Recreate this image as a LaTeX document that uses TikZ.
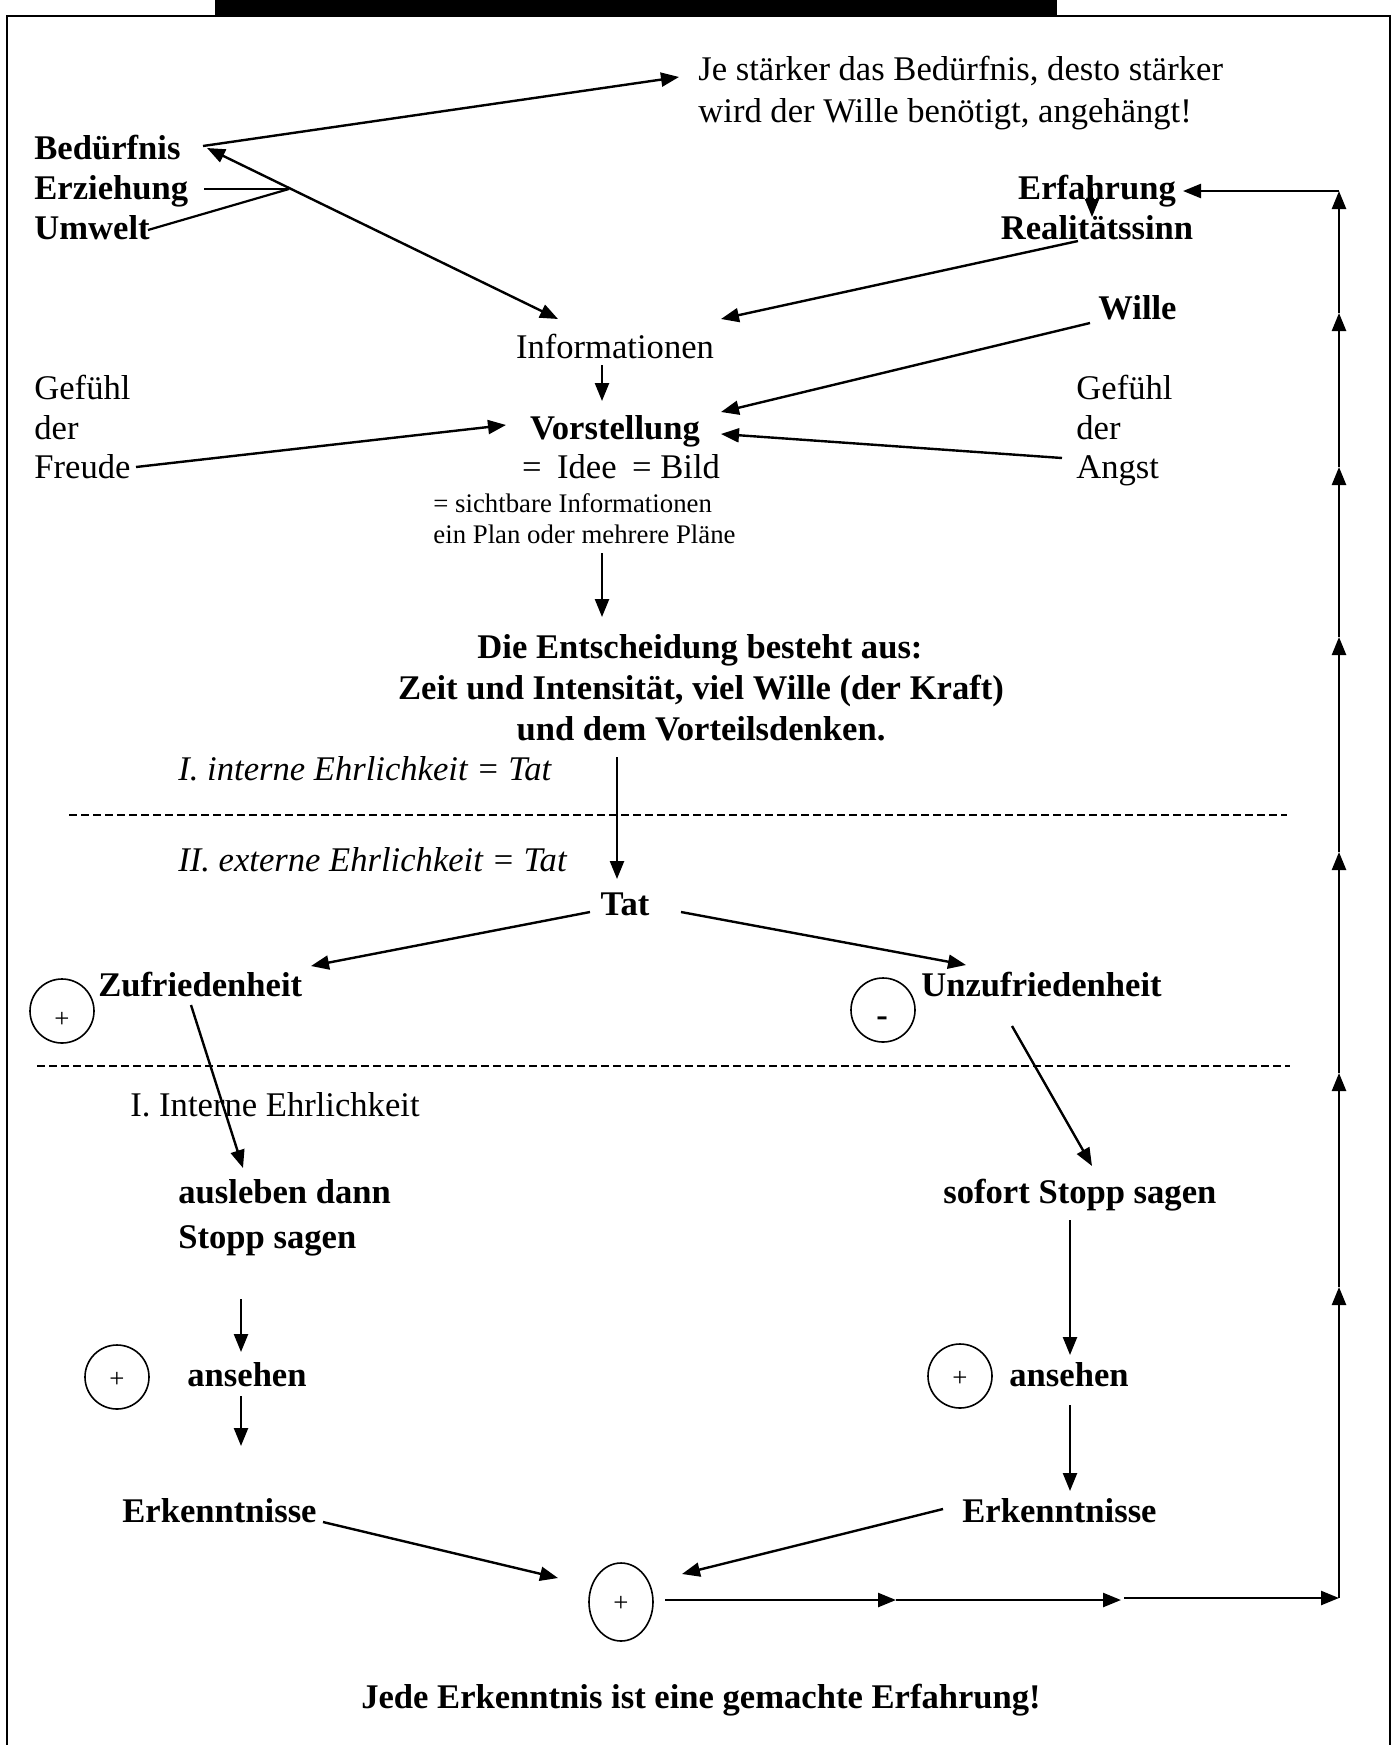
\documentclass[tikz,border=0pt]{standalone}
\usepackage{fontspec}
\setmainfont{Liberation Serif}
\usetikzlibrary{arrows.meta,shapes.geometric}
\begin{document}
\begin{tikzpicture}[x=0.5pt,y=-0.5pt,
  txt/.style={inner sep=0pt, font=\fontsize{17.3}{20}\selectfont},
  btxt/.style={inner sep=0pt, font=\fontsize{17.3}{20}\selectfont\bfseries},
  itxt/.style={inner sep=0pt, font=\fontsize{17.3}{20}\selectfont\itshape},
  stxt/.style={inner sep=0pt, font=\fontsize{13.4}{15}\selectfont},
  arr/.style={line width=1.2pt, -{Triangle[length=9pt,width=7pt]}},
  darr/.style={line width=1.2pt, {Triangle[length=9pt,width=7pt]}-{Triangle[length=9pt,width=7pt]}},
  ln/.style={line width=1.1pt},
  ring/.style={draw, line width=0.8pt, circle, minimum size=32pt, inner sep=0pt},
  oval/.style={draw, line width=0.8pt, ellipse, minimum width=32pt, minimum height=39pt, inner sep=0pt},
  sep/.style={line width=1pt, dash pattern=on 4pt off 2pt}]
\useasboundingbox (0,0) rectangle (1394,1745);
% frame and top bar
\draw[line width=1.3pt] (7,1745) -- (7,16) -- (1390,16) -- (1390,1745);
\fill (215,0) rectangle (1057,15);

% texts
\node[txt, anchor=base west] (je1) at (698,80) {Je stärker das Bedürfnis, desto stärker};
\node[txt, anchor=base west] (je2) at (698,122) {wird der Wille benötigt, angehängt!};
\node[btxt, anchor=base west] (bed) at (34,159) {Bedürfnis};
\node[btxt, anchor=base west] (erz) at (34,199) {Erziehung};
\node[btxt, anchor=base west] (umw) at (34,239) {Umwelt};
\node[btxt, anchor=base] (erf) at (1097,199) {Erfahrung};
\node[btxt, anchor=base] (real) at (1097,239) {Realitätssinn};
\node[btxt, anchor=base west] (wille) at (1098,319) {Wille};
\node[txt, anchor=base] (info) at (615,358) {Informationen};
\node[txt, anchor=base west] (gfa) at (34,399) {Gefühl};
\node[txt, anchor=base west] (gfb) at (34,439) {der};
\node[txt, anchor=base west] (gfc) at (34,478) {Freude};
\node[btxt, anchor=base] (vor) at (615,439) {Vorstellung};
\node[txt, anchor=base] (idee) at (621,478) {=\hspace{0.45em}Idee\hspace{0.45em}= Bild};
\node[txt, anchor=base west] (gaa) at (1076,399) {Gefühl};
\node[txt, anchor=base west] (gab) at (1076,439) {der};
\node[txt, anchor=base west] (gac) at (1076,478) {Angst};
\node[stxt, anchor=base west] (sicht) at (433,512) {= sichtbare Informationen};
\node[stxt, anchor=base west] (plan) at (433,543) {ein Plan oder mehrere Pläne};
\node[btxt, anchor=base] (enta) at (700,658) {Die Entscheidung besteht aus:};
\node[btxt, anchor=base] (entb) at (701,699) {Zeit und Intensität, viel Wille (der Kraft)};
\node[btxt, anchor=base] (entc) at (701,740) {und dem Vorteilsdenken.};
\node[itxt, anchor=base west] (inta) at (178,780) {I. interne Ehrlichkeit = Tat};
\node[itxt, anchor=base west] (ext) at (178,871) {II. externe Ehrlichkeit = Tat};
\node[btxt, anchor=base] (tat) at (625,915) {Tat};
\node[btxt, anchor=base west] (zuf) at (98,996) {Zufriedenheit};
\node[btxt, anchor=base west] (unz) at (921,996) {Unzufriedenheit};
\node[txt, anchor=base west] (intb) at (130,1116) {I. Interne Ehrlichkeit};
\node[btxt, anchor=base west] (ausa) at (178,1203) {ausleben dann};
\node[btxt, anchor=base west] (ausb) at (178,1248) {Stopp sagen};
\node[btxt, anchor=base west] (sof) at (943,1203) {sofort Stopp sagen};
\node[btxt, anchor=base west] (ansa) at (187,1386) {ansehen};
\node[btxt, anchor=base west] (ansb) at (1009,1386) {ansehen};
\node[btxt, anchor=base west] (erka) at (122,1522) {Erkenntnisse};
\node[btxt, anchor=base west] (erkb) at (962,1522) {Erkenntnisse};
\node[btxt, anchor=base] (jede) at (701,1708) {Jede Erkenntnis ist eine gemachte Erfahrung!};

% circles
\node[ring] (c1) at (62,1011) {};
\node[stxt] at (62,1020) {+};
\node[ring] (c2) at (883,1010) {};
\node[btxt] at (882,1022) {-};
\node[ring] (c3) at (117,1377) {};
\node[stxt] at (117,1380) {+};
\node[ring] (c4) at (960,1376) {};
\node[stxt] at (960,1379) {+};
\node[oval] (c5) at (621,1602) {};
\node[stxt] at (621,1604) {+};

% separators
\draw[sep] (69,815) -- (1287,815);
\draw[sep] (37,1066) -- (1290,1066);

% connector end points
\coordinate (bedA) at (203,146);
\coordinate (jeA) at (679,77);
\coordinate (bedB) at (207,148);
\coordinate (infoL) at (558,319);
\coordinate (erzE) at (204,189);
\coordinate (umwE) at (148,230);
\coordinate (meet) at (289,189);
\coordinate (realS) at (1078,241);
\coordinate (infoR) at (721,319);
\coordinate (erfS) at (1092,188);
\coordinate (realT) at (1092,217);
\coordinate (willeS) at (1090,323);
\coordinate (vorR1) at (721,412);
\coordinate (infoS) at (602,365);
\coordinate (vorT) at (602,401);
\coordinate (freuS) at (136,467);
\coordinate (vorL) at (506,425);
\coordinate (angS) at (1062,458);
\coordinate (vorR2) at (721,434);
\coordinate (planS) at (602,553);
\coordinate (entT) at (602,617);
\coordinate (entS) at (617,757);
\coordinate (tatT) at (617,879);
\coordinate (tatL) at (590,912);
\coordinate (zufT) at (311,966);
\coordinate (tatR) at (681,912);
\coordinate (unzT) at (966,965);
\coordinate (zufS) at (191,1005);
\coordinate (ausT) at (243,1168);
\coordinate (unzS) at (1012,1026);
\coordinate (sofT) at (1092,1166);
\coordinate (la1) at (241,1299);
\coordinate (la2) at (241,1352);
\coordinate (la3) at (241,1396);
\coordinate (la4) at (241,1446);
\coordinate (ra1) at (1070,1220);
\coordinate (ra2) at (1070,1355);
\coordinate (ra3) at (1070,1405);
\coordinate (ra4) at (1070,1491);
\coordinate (erkaS) at (323,1522);
\coordinate (c5L) at (558,1578);
\coordinate (erkbS) at (943,1509);
\coordinate (c5R) at (682,1574);
\coordinate (b0) at (665,1600);
\coordinate (b1) at (896,1600);
\coordinate (b2) at (1121,1600);
\coordinate (b3) at (1124,1598);
\coordinate (v0) at (1339,1598);
\coordinate (v1) at (1339,1287);
\coordinate (v2) at (1339,1073);
\coordinate (v3) at (1339,852);
\coordinate (v4) at (1339,637);
\coordinate (v5) at (1339,467);
\coordinate (v6) at (1339,313);
\coordinate (v7) at (1339,191);
\coordinate (erfT) at (1183,191);

% connectors
\draw[arr] (bedA) -- (jeA);
\draw[darr] (bedB) -- (infoL);
\draw[ln] (erzE) -- (meet);
\draw[ln] (umwE) -- (meet);
\draw[arr] (realS) -- (infoR);
\draw[arr, line width=1pt] (erfS) -- (realT);
\draw[arr] (willeS) -- (vorR1);
\draw[arr] (infoS) -- (vorT);
\draw[arr] (freuS) -- (vorL);
\draw[arr] (angS) -- (vorR2);
\draw[arr] (planS) -- (entT);
\draw[arr] (entS) -- (tatT);
\draw[arr] (tatL) -- (zufT);
\draw[arr] (tatR) -- (unzT);
\draw[arr] (zufS) -- (ausT);
\draw[arr] (unzS) -- (sofT);
\draw[arr] (la1) -- (la2);
\draw[arr] (la3) -- (la4);
\draw[arr] (ra1) -- (ra2);
\draw[arr] (ra3) -- (ra4);
\draw[arr] (erkaS) -- (c5L);
\draw[arr] (erkbS) -- (c5R);
\draw[arr] (b0) -- (b1);
\draw[arr] (b1) -- (b2);
\draw[arr] (b3) -- (v0);
\draw[arr] (v0) -- (v1);
\draw[arr] (v1) -- (v2);
\draw[arr] (v2) -- (v3);
\draw[arr] (v3) -- (v4);
\draw[arr] (v4) -- (v5);
\draw[arr] (v5) -- (v6);
\draw[arr] (v6) -- (v7);
\draw[arr] (v7) -- (erfT);
\end{tikzpicture}
\end{document}
